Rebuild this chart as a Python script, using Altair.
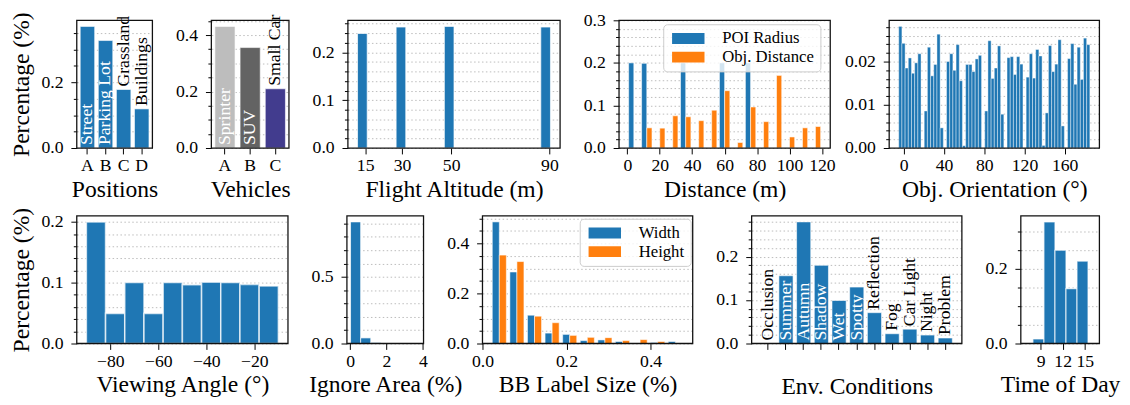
import altair as alt
import pandas as pd

FONT = "Liberation Serif"
BLUE = "#1f77b4"
ORANGE = "#ff7f0e"
FRAME = "#111111"
H = 130

# ---------------- data ----------------
pos_cats = ["A", "B", "C", "D"]
pos_vals = [0.370, 0.327, 0.178, 0.119]
pos_names = ["Street", "Parking Lot", "Grassland", "Buildings"]
pos_inside = [True, True, False, False]

veh_cats = ["A", "B", "C"]
veh_vals = [0.431, 0.356, 0.210]
veh_names = ["Sprinter", "SUV", "Small Car"]
veh_inside = [True, True, False]
veh_colors = ["#bdbdbd", "#636363", "#423c8e"]

alt_bin_starts = [11.9, 27.6, 47.225, 86.475]
alt_bin_width = 3.925
alt_vals = [0.2395, 0.253, 0.2544, 0.253]
alt_ticks = [15, 30, 50, 90]

dist_bin_start = 0.0
dist_bin_width = 8.0
poi_vals = [0.200, 0.199, 0, 0, 0.200, 0, 0, 0.200, 0, 0.200, 0, 0, 0, 0, 0]
objdist_vals = [0, 0.0474, 0.0467, 0.0757, 0.0734, 0.0643, 0.0888, 0.1347,
                0.0130, 0.0964, 0.0620, 0.1706, 0.0260, 0.0474, 0.0505]
dist_ticks = [0, 20, 40, 60, 80, 100, 120]

orient_bin_start = -5.0
orient_bin_width = 190.0 / 60
orient_vals = [0.02812, 0.02421, 0.01850, 0.02083, 0.01729, 0.01970, 0.02180, 0,
               0.00857, 0.02331, 0.01669, 0.01932, 0.02632, 0.00466, 0,
               0.02000, 0.02180, 0.01797, 0.02391, 0.01556, 0.00053,
               0.01932, 0.01932, 0.01767, 0.02060, 0.02143, 0,
               0.00857, 0.02481, 0.01609, 0.01850, 0.02361, 0.00782, 0,
               0.02090, 0.02113, 0.01699, 0.02113, 0.01940, 0,
               0.01639, 0.02180, 0.01617, 0.02278, 0.02128, 0.00060,
               0.00812, 0.02368, 0.01767, 0.01940, 0.02504, 0.00511, 0,
               0.02068, 0.02414, 0.01474, 0.02331, 0.01586, 0.02541, 0.02391]
orient_ticks = [0, 40, 80, 120, 160]

view_bin_start = -90.0
view_bin_width = 8.0
view_vals = [0.200, 0.0495, 0.1005, 0.0495, 0.1005, 0.0968, 0.1010, 0.1005, 0.0973, 0.0946]
view_ticks = [-80, -60, -40, -20]

ign_bin_start = 0.02
ign_bin_width = 0.557
ign_vals = [0.912, 0.042, 0.007]
ign_ticks = [0, 2, 4]

bb_bin_start = 0.0191
bb_bin_width = 0.04186
bb_width_vals = [0.4857, 0.2857, 0.1130, 0.0416, 0.0364, 0.0117, 0.0143, 0.0078, 0.0010, 0.0039, 0.0078]
bb_height_vals = [0.3532, 0.3273, 0.1091, 0.0831, 0.0325, 0.0247, 0.0234, 0.0117, 0.0156, 0.0078, 0]
bb_ticks = [0.0, 0.2, 0.4]

env_cats = ["Occlusion", "Summer", "Autumn", "Shadow", "Wet", "Spotty",
            "Reflection", "Fog", "Car Light", "Night", "Problem"]
env_vals = [0.0, 0.156, 0.280, 0.180, 0.099, 0.130, 0.071, 0.0225, 0.033, 0.0195, 0.0127]
env_inside = [False, True, True, True, True, True, False, False, False, False, False]

tod_bin_start = 7.95
tod_bin_width = 1.5
tod_vals = [0.0123, 0.326, 0.250, 0.147, 0.221]
tod_ticks = [9, 12, 15]


# ---------------- helpers ----------------
def frame():
    # panel border drawn as an unfilled rectangle spanning the whole plot area
    return alt.Chart(pd.DataFrame({"f": [0]})).mark_rect(
        filled=False, stroke=FRAME, strokeWidth=1.3
    ).encode(x=alt.value(0), x2=alt.value("width"), y=alt.value(0), y2=alt.value("height"))


def y_axis(major, minor, top, fmt, title=None):
    n = int(top / minor + 1e-9)
    vals = [round(i * minor, 6) for i in range(n + 1)]
    test = f"abs(datum.value / {major} - round(datum.value / {major})) < 1e-6"
    return alt.Axis(values=vals, title=title, grid=True, gridDash=[1.5, 2.5],
                    gridColor="#b4b4b4", gridWidth=0.9,
                    labelExpr=f"({test}) ? format(datum.value, '{fmt}') : ''",
                    tickSize={"condition": {"test": test, "value": 6}, "value": 3.5},
                    labelOverlap=False, labelFlush=False, labelPadding=8,
                    domain=False, titlePadding=8)


def x_axis(title, values=None, fmt=None, labels=True, title_pad=3):
    kw = dict(title=title, grid=False, tickSize=6, labelPadding=3, domain=False,
              labelFlush=False, labelOverlap=False, titlePadding=title_pad, labelAngle=0)
    if values is not None:
        kw["values"] = values
    if fmt:
        kw["format"] = fmt
    if not labels:
        kw["labels"] = False
    return alt.Axis(**kw)


def hist_df(start, width, vals, lo=0.0, hi=1.0, series=None):
    rows = []
    for i, v in enumerate(vals):
        if v > 0:
            e = start + i * width
            rows.append({"x0": e + lo * width, "x1": e + hi * width, "v": v, "s": series})
    return pd.DataFrame(rows)


def legend(x, y, pad=6):
    return alt.Legend(title=None, orient="none", legendX=x, legendY=y, direction="vertical",
                      symbolType="M-3,-1L3,-1L3,1L-3,1Z", symbolSize=121,
                      symbolStrokeWidth=0, symbolOpacity=1, symbolOffset=11,
                      labelFont=FONT, labelFontSize=17, labelColor="black", labelOffset=26,
                      padding=pad, fillColor="rgba(255,255,255,0.8)", strokeColor="#cccccc",
                      cornerRadius=4, rowPadding=1, labelLimit=300)


def hist_panel(df, w, xdom, xticks, xtitle, ytop, major, minor, yfmt, xfmt=None,
               ytitle=None, color=None, stroke_w=1.0):
    x = alt.X("x0:Q", scale=alt.Scale(domain=xdom, nice=False, zero=False),
              axis=x_axis(xtitle, xticks, xfmt))
    y = alt.Y("v:Q", scale=alt.Scale(domain=[0, ytop], nice=False),
              axis=y_axis(major, minor, ytop, yfmt, ytitle))
    enc = dict(x=x, x2="x1:Q", y=y, y2=alt.datum(0))
    if color is not None:
        enc["color"] = color
        mk = alt.Chart(df).mark_bar(stroke="white", strokeWidth=stroke_w, strokeOpacity=0.7)
    else:
        mk = alt.Chart(df).mark_bar(color=BLUE, stroke="white", strokeWidth=stroke_w, strokeOpacity=0.7)
    return alt.layer(mk.encode(**enc), frame()).properties(width=w, height=H)


def cat_panel(cats, vals, names, inside, w, po, ytop, major, minor, yfmt, xtitle,
              ytitle=None, colors=None, show_labels=True, title_pad=3):
    df = pd.DataFrame({"c": cats, "v": vals, "name": names, "inside": inside})
    df["ty"] = [0.0 if ins else v for v, ins in zip(vals, inside)]
    xs = alt.Scale(domain=cats, paddingInner=0.2, paddingOuter=po)
    xa = x_axis(xtitle, labels=show_labels, title_pad=title_pad)
    ys = alt.Scale(domain=[0, ytop], nice=False)
    ya = y_axis(major, minor, ytop, yfmt, ytitle)
    base = alt.Chart(df)
    enc = dict(x=alt.X("c:N", scale=xs, axis=xa), y=alt.Y("v:Q", scale=ys, axis=ya))
    if colors:
        enc["color"] = alt.Color("c:N", scale=alt.Scale(domain=cats, range=colors), legend=None)
        bars = base.transform_filter("datum.v > 0").mark_bar(stroke="white", strokeWidth=1, strokeOpacity=0.6)
    else:
        bars = base.transform_filter("datum.v > 0").mark_bar(color=BLUE, stroke="white", strokeWidth=1, strokeOpacity=0.6)
    bars = bars.encode(**enc)
    tenc = dict(x=alt.X("c:N", scale=xs, axis=xa), y=alt.Y("ty:Q", scale=ys, axis=ya), text="name:N")
    t_in = base.transform_filter("datum.inside").mark_text(
        angle=270, align="left", baseline="middle", dx=3, font=FONT, fontSize=18, color="white"
    ).encode(**tenc)
    t_out = base.transform_filter("!datum.inside").mark_text(
        angle=270, align="left", baseline="middle", dx=3, font=FONT, fontSize=18, color="black"
    ).encode(**tenc)
    return alt.layer(bars, t_in, t_out, frame()).properties(width=w, height=H)


# ---------------- panels ----------------
p_pos = cat_panel(pos_cats, pos_vals, pos_names, pos_inside, 77, 0.19, 0.3885, 0.2, 0.05, ".1f",
                  "Positions", ytitle="Percentage (%)")
p_veh = cat_panel(veh_cats, veh_vals, veh_names, veh_inside, 79, 0.14, 0.4526, 0.2, 0.05, ".1f",
                  "Vehicles", colors=veh_colors)

alt_df = pd.DataFrame({"x0": alt_bin_starts,
                       "x1": [s + alt_bin_width for s in alt_bin_starts],
                       "v": alt_vals})
p_alt = hist_panel(alt_df, 216, [7.975, 94.325], alt_ticks, "Flight Altitude (m)",
                   0.2671, 0.1, 0.02, ".1f")

dist_df = pd.concat([
    hist_df(dist_bin_start, dist_bin_width, poi_vals, 0.1, 0.5, "POI Radius"),
    hist_df(dist_bin_start, dist_bin_width, objdist_vals, 0.5, 0.9, "Obj. Distance"),
])
dist_color = alt.Color("s:N", scale=alt.Scale(domain=["POI Radius", "Obj. Distance"], range=[BLUE, ORANGE]),
                       legend=legend(45, 4))
p_dist = hist_panel(dist_df, 215, [-5.12, 125.12], dist_ticks, "Distance (m)",
                    0.3, 0.1, 0.02, ".1f", color=dist_color, stroke_w=0.8)

p_orient = hist_panel(hist_df(orient_bin_start, orient_bin_width, orient_vals), 214,
                      [-14.5, 194.5], orient_ticks, "Obj. Orientation (°)",
                      0.02953, 0.01, 0.002, ".2f", stroke_w=0.6)

p_view = hist_panel(hist_df(view_bin_start, view_bin_width, view_vals), 215,
                    [-94, -6], view_ticks, "Viewing Angle (°)",
                    0.21, 0.1, 0.02, ".1f", ytitle="Percentage (%)", stroke_w=1.6)

p_ign = hist_panel(hist_df(ign_bin_start, ign_bin_width, ign_vals), 78,
                   [-0.18, 4.04], ign_ticks, "Ignore Area (%)",
                   0.9576, 0.5, 0.1, ".1f")

bb_df = pd.concat([
    hist_df(bb_bin_start, bb_bin_width, bb_width_vals, 0.1, 0.5, "Width"),
    hist_df(bb_bin_start, bb_bin_width, bb_height_vals, 0.5, 0.9, "Height"),
])
bb_color = alt.Color("s:N", scale=alt.Scale(domain=["Width", "Height"], range=[BLUE, ORANGE]),
                     legend=legend(99, 3))
p_bb = hist_panel(bb_df, 214, [0, 0.5], bb_ticks, "BB Label Size (%)",
                  0.51, 0.2, 0.05, ".1f", xfmt=".1f", color=bb_color, stroke_w=0.8)

p_env = cat_panel(env_cats, env_vals, env_cats, env_inside, 214, 0.54, 0.294, 0.1, 0.02, ".1f",
                  "Env. Conditions", show_labels=False, title_pad=25)

p_tod = hist_panel(hist_df(tod_bin_start, tod_bin_width, tod_vals), 80,
                   [6.3, 17.0], tod_ticks, "Time of Day",
                   0.3423, 0.2, 0.05, ".1f", stroke_w=1.2)

row1 = alt.hconcat(p_pos, p_veh, p_alt, p_dist, p_orient, spacing=60, bounds="flush"
                   ).resolve_scale(color="independent")
row2 = alt.hconcat(p_view, p_ign, p_bb, p_env, p_tod, spacing=60, bounds="flush"
                   ).resolve_scale(color="independent")

chart = alt.vconcat(row1, row2, spacing=6, bounds="full").properties(
    padding={"left": 1, "top": 0, "right": 2, "bottom": 0},
).resolve_scale(color="independent").configure_view(
    strokeWidth=0
).configure_axis(
    labelFont=FONT, titleFont=FONT, labelFontSize=18, titleFontSize=24,
    labelColor="black", titleColor="black", titleFontWeight="normal",
    tickColor="black", tickWidth=1
)

chart.save("out.html", embed_options={"renderer": "svg", "actions": False})
